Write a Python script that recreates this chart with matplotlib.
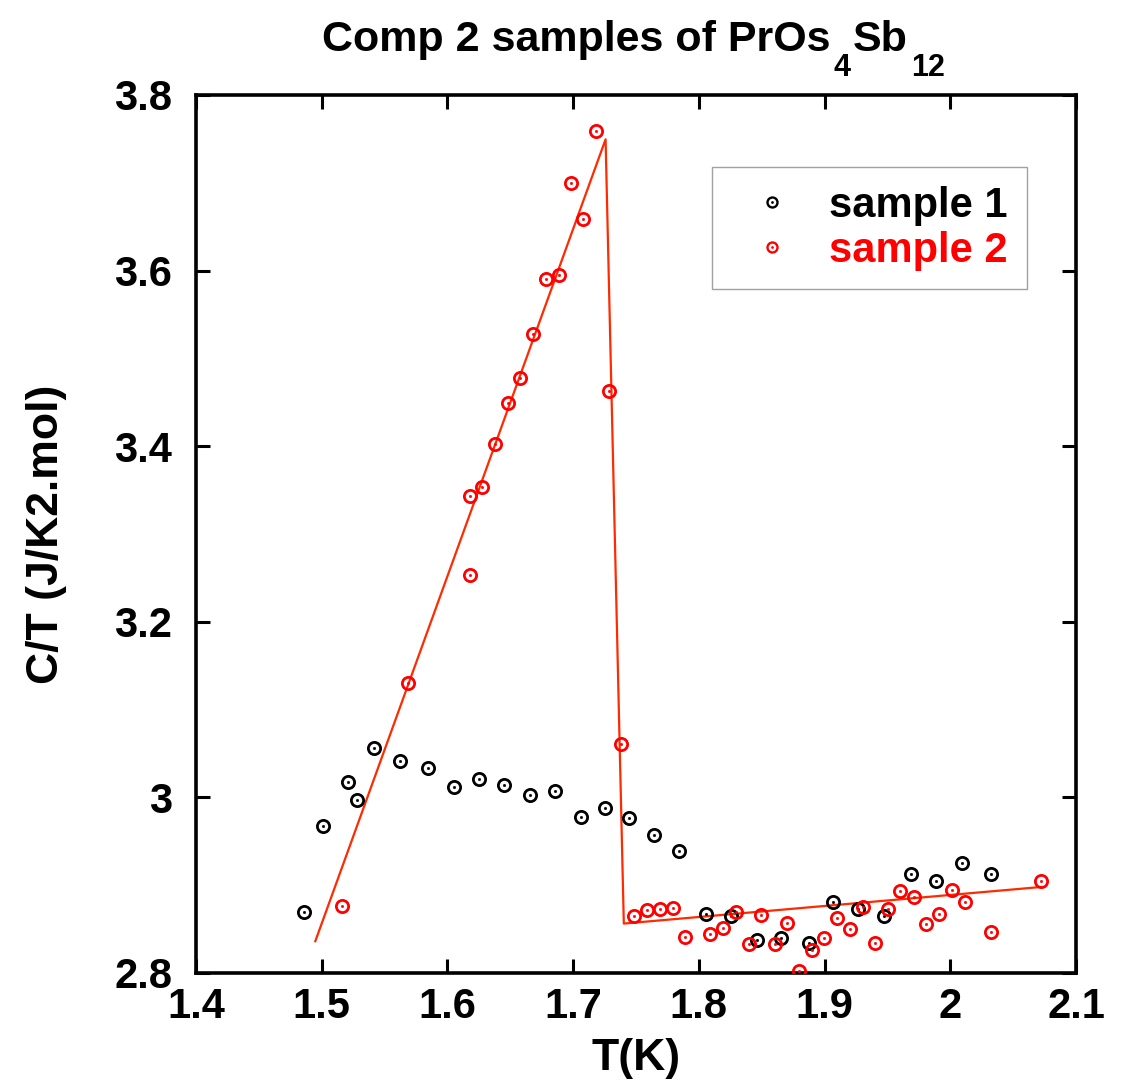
import matplotlib
matplotlib.use("Agg")
import matplotlib.pyplot as plt
from matplotlib.lines import Line2D
from matplotlib.legend_handler import HandlerTuple
from matplotlib.ticker import FuncFormatter

plt.rcParams['font.family'] = ['Liberation Sans', 'DejaVu Sans']
plt.rcParams['font.weight'] = 'bold'

# sample 1 data
s1_T = [1.4857, 1.5008, 1.5212, 1.5281, 1.5414, 1.5620, 1.5846, 1.6053, 1.6252,
        1.6451, 1.6660, 1.6854, 1.7064, 1.7250, 1.7448, 1.7647, 1.7841, 1.8056,
        1.8252, 1.8465, 1.8656, 1.8873, 1.9067, 1.9266, 1.9472, 1.9685, 1.9886,
        2.0091, 2.0321]
s1_CT = [2.8696, 2.9670, 3.0175, 2.9966, 3.0560, 3.0420, 3.0334, 3.0114, 3.0213,
         3.0144, 3.0027, 3.0076, 2.9780, 2.9880, 2.9766, 2.9576, 2.9390, 2.8669,
         2.8646, 2.8378, 2.8404, 2.8339, 2.8806, 2.8734, 2.8654, 2.9128, 2.9052,
         2.9249, 2.9128]

# sample 2 data
s2_T = [1.5164, 1.5684, 1.6176, 1.6183, 1.6276, 1.6377, 1.6483, 1.6581, 1.6679,
        1.6785, 1.6886, 1.6984, 1.7080, 1.7183, 1.7284, 1.7377, 1.7483, 1.7586,
        1.7693, 1.7796, 1.7892, 1.8088, 1.8189, 1.8292, 1.8398, 1.8497, 1.8602,
        1.8698, 1.8799, 1.8899, 1.8992, 1.9101, 1.9202, 1.9308, 1.9401, 1.9504,
        1.9603, 1.9709, 1.9807, 1.9910, 2.0011, 2.0117, 2.0321, 2.0725]
s2_CT = [2.8760, 3.1303, 3.2534, 3.3436, 3.3538, 3.4020, 3.4494, 3.4778, 3.5283,
         3.5909, 3.5947, 3.6993, 3.6584, 3.7588, 3.4630, 3.0610, 2.8646, 2.8722,
         2.8730, 2.8742, 2.8415, 2.8446, 2.8510, 2.8692, 2.8332, 2.8666, 2.8332,
         2.8571, 2.8020, 2.8260, 2.8400, 2.8628, 2.8503, 2.8753, 2.8336, 2.8726,
         2.8939, 2.8862, 2.8560, 2.8677, 2.8947, 2.8806, 2.8464, 2.9044]

# fit line (idealized transition) for sample 2
fit_T = [1.4949, 1.7258, 1.7403, 2.0725]
fit_CT = [2.8362, 3.7495, 2.8563, 2.8980]

x_ticks = [1.4, 1.5, 1.6, 1.7, 1.8, 1.9, 2.0, 2.1]
y_ticks = [2.8, 3.0, 3.2, 3.4, 3.6, 3.8]

W, H = 1123, 1084
fig = plt.figure(figsize=(W / 100, H / 100), dpi=100)
ax = fig.add_axes([196 / W, 1 - 973 / H, 880 / W, 878 / H])

RED = '#ff0000'
LINE_RED = '#ff2a00'

ax.plot(fit_T, fit_CT, color=LINE_RED, lw=1.6, zorder=2)

def dotted_circles(x, y, color):
    ax.plot(x, y, ls='none', marker='o', mfc='none', mec=color, ms=8.8, mew=2.0, zorder=3)
    ax.plot(x, y, ls='none', marker='o', mfc=color, mec=color, ms=1.6, mew=0.5, zorder=3)
    h1 = Line2D([], [], ls='none', marker='o', mfc='none', mec=color, ms=7.2, mew=1.7)
    h2 = Line2D([], [], ls='none', marker='o', mfc=color, mec=color, ms=1.4, mew=0.5)
    return (h1, h2)

hs1 = dotted_circles(s1_T, s1_CT, 'black')
hs2 = dotted_circles(s2_T, s2_CT, RED)

ax.set_xlim(1.4, 2.1)
ax.set_ylim(2.8, 3.8)
ax.set_xticks(x_ticks)
ax.set_yticks(y_ticks)
fmt = FuncFormatter(lambda v, p: ('%.1f' % v).rstrip('0').rstrip('.'))
ax.xaxis.set_major_formatter(fmt)
ax.yaxis.set_major_formatter(fmt)
ax.tick_params(axis='both', which='major', direction='in', length=10, width=2.2,
               top=True, right=True, labelsize=30)
ax.tick_params(axis='x', pad=10)
ax.tick_params(axis='y', pad=17)
for lab in ax.get_xticklabels() + ax.get_yticklabels():
    lab.set_fontweight('bold')
for sp in ax.spines.values():
    sp.set_linewidth(2.6)

ax.set_xlabel('T(K)', fontsize=32, fontweight='bold', labelpad=8)
ax.set_ylabel('C/T (J/K2.mol)', fontsize=32, fontweight='bold', labelpad=34)

leg = ax.legend([hs1, hs2], ['sample 1', 'sample 2'],
                handler_map={tuple: HandlerTuple(ndivide=1)},
                loc='upper right', bbox_to_anchor=(0.944, 0.918), borderaxespad=0,
                frameon=True, fancybox=False, edgecolor='#8a8a8a',
                prop={'size': 30, 'weight': 'bold'}, labelcolor=['black', RED],
                handlelength=2.0, handletextpad=0.38, labelspacing=0.12,
                borderpad=0.45)
leg.get_frame().set_linewidth(1.0)

# title with lowered subscripts
fig.canvas.draw()
r = fig.canvas.get_renderer()
base_y = 1 - 51 / H
sub_y = 1 - 76 / H
x_px = 322
pieces = [("Comp 2 samples of PrOs", 31, base_y, 0),
          ("4", 22, sub_y, 3),
          ("Sb", 31, base_y, 2),
          ("12", 22, sub_y, 4)]
for txt, size, yy, gap in pieces:
    x_px += gap
    t = fig.text(x_px / W, yy, txt, fontsize=size, fontweight='bold',
                 ha='left', va='baseline')
    bb = t.get_window_extent(r)
    x_px = bb.x1

fig.savefig('out.png', dpi=100)
